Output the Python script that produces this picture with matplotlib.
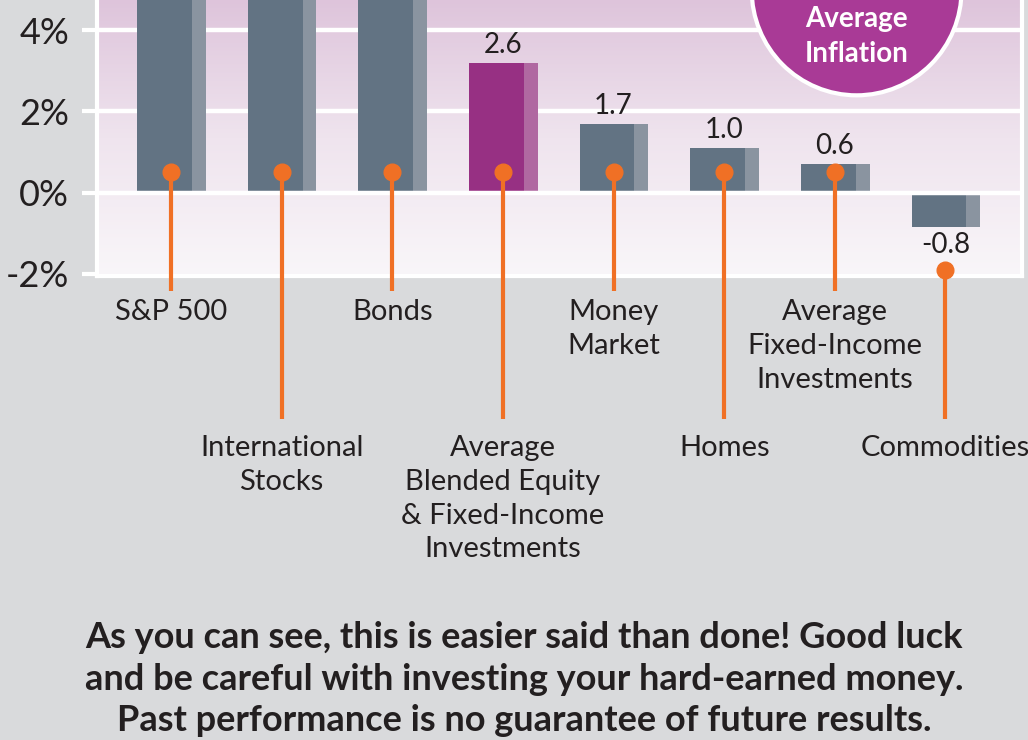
import matplotlib.pyplot as plt
from matplotlib.patches import Ellipse
from matplotlib.colors import LinearSegmentedColormap
import numpy as np

plt.rcParams['font.family'] = ['Lato', 'DejaVu Sans']

categories = ['S&P 500', 'International\nStocks', 'Bonds',
              'Average\nBlended Equity\n& Fixed-Income\nInvestments',
              'Money\nMarket', 'Homes',
              'Average\nFixed-Income\nInvestments', 'Commodities']
# bar heights as drawn (first three run off the top of the crop)
heights = [9.0, 8.5, 8.0, 3.2, 1.7, 1.1, 0.7, -0.85]
value_labels = ['', '', '', '2.6', '1.7', '1.0', '0.6', '-0.8']
yticks = [-2, 0, 2, 4]

dark = '#627383'
light = '#8a94a0'
purple_dark = '#973083'
purple_light = '#b068a1'
orange = '#f07025'
ink = '#231f20'

fig = plt.figure(figsize=(10.28, 7.40), dpi=100)
fig.patch.set_facecolor('#d9dadc')
ax = fig.add_axes([0.0944, 0.627, 0.8996, 0.373])

x = np.arange(len(categories))
ax.set_xlim(-0.668, 7.69)
ax.set_ylim(-2.05, 4.74)

# gradient background
grad = np.linspace(0, 1, 256).reshape(-1, 1)
cmap = LinearSegmentedColormap.from_list('bg', ['#f9f6f9', '#efe4ee', '#dec4db'])
ax.imshow(grad, extent=[-0.668, 7.69, -2.05, 4.74], origin='lower', cmap=cmap,
          aspect='auto', zorder=0)

for g in [2, 4]:
    ax.axhline(g, color='white', lw=3.2, zorder=1)

cols_d = [dark] * 8
cols_l = [light] * 8
cols_d[3] = purple_dark
cols_l[3] = purple_light
ax.bar(x - 0.306, heights, width=0.495, align='edge', color=cols_d, zorder=2)
ax.bar(x + 0.189, heights, width=0.126, align='edge', color=cols_l, zorder=2)
ax.axhline(0, color='white', lw=3.2, zorder=3)

# value labels
for i, (h, lab) in enumerate(zip(heights, value_labels)):
    if not lab:
        continue
    if h > 0:
        ax.text(i, h + 0.12, lab, ha='center', va='bottom', fontsize=20, color=ink, zorder=5)
    else:
        ax.text(i, h - 0.12, lab, ha='center', va='top', fontsize=20, color=ink, zorder=5)

# orange leader lines + dots
for i, h in enumerate(heights):
    dot_y = 0.52 if h > 0 else -1.9
    end_y = -2.42 if i % 2 == 0 else -5.56
    ax.plot([i, i], [dot_y, end_y], color=orange, lw=3, clip_on=False, zorder=4,
            solid_capstyle='butt')
    ax.plot(i, dot_y, 'o', color=orange, ms=12, clip_on=False, zorder=5)
    label_y = -2.62 if i % 2 == 0 else -5.95
    ax.text(i, label_y, categories[i], ha='center', va='top', fontsize=21,
            color=ink, linespacing=1.38, clip_on=False)

# inflation bubble
ax.add_patch(Ellipse((6.197, 4.99), 1.897, 5.19, facecolor='#a93a96',
                     edgecolor='white', lw=3, zorder=6))
ax.text(6.197, 3.85, 'Average\nInflation', ha='center', va='center', fontsize=20,
        fontweight='bold', color='white', linespacing=1.42, zorder=7)

ax.set_yticks(yticks)
ax.set_yticklabels([f'{t}%' for t in yticks], fontsize=26, color=ink)
ax.tick_params(axis='y', length=11, width=3, color='white', pad=9)
ax.set_xticks([])
for side in ['left', 'right', 'bottom']:
    ax.spines[side].set_color('white')
    ax.spines[side].set_linewidth(3)
ax.spines['top'].set_visible(False)

fig.text(0.510, 0.0824, 'As you can see, this is easier said than done! Good luck\n'
         'and be careful with investing your hard-earned money.\n'
         'Past performance is no guarantee of future results.',
         ha='center', va='center', fontsize=26, fontweight='bold', color=ink,
         linespacing=1.33)

fig.savefig('out.png', dpi=100, facecolor=fig.get_facecolor())
